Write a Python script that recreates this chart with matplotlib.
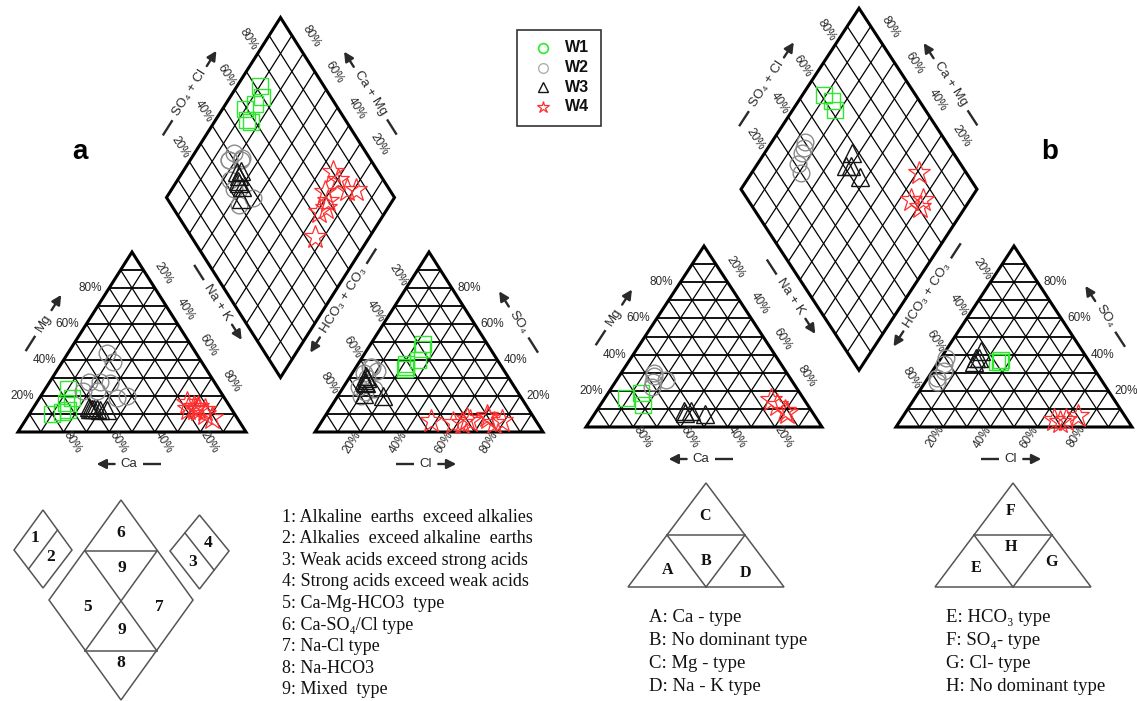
import math
import matplotlib
matplotlib.use("Agg")
import matplotlib.pyplot as plt
from matplotlib.patches import Polygon, Rectangle

# ---------------------------------------------------------------
# Sample compositions (meq %). Cations: (Ca, Mg, Na+K); anions: (HCO3+CO3, SO4, Cl)
# ---------------------------------------------------------------
groups = ["W1", "W2", "W3", "W4"]

# Panel a
a_W1_cations = [(66, 24, 10), (67, 19, 14), (71, 16, 13), (80, 10, 10), (75, 11, 14), (72, 12, 16)]
a_W1_anions = [(28, 49, 23), (30, 46, 24), (35, 40, 25), (41, 38, 21), (43, 35, 22), (42, 36, 22)]
a_W2_cations = [(39, 44, 17), (39, 39, 22), (55, 28, 17), (50, 28, 22), (46, 27, 27),
                (60, 23, 17), (54, 23, 23), (42, 20, 38), (47, 19, 34)]
a_W2_anions = [(58, 36, 6), (56, 34, 10), (62, 33, 5), (57, 36, 7), (68, 25, 7),
               (62, 30, 8), (67, 22, 11), (62, 24, 14), (70, 20, 10)]
a_W3_cations = [(62, 14, 24), (61, 13, 26), (59, 13, 28), (58, 12, 30), (60, 13, 27),
                (55, 12, 33), (62, 13, 25)]
a_W3_anions = [(62, 31, 7), (62, 30, 8), (64, 28, 8), (64, 27, 9), (64, 29, 7),
               (68, 21, 11), (60, 20, 20)]
a_W4_cations = [(18, 16, 66), (16, 14, 70), (11, 8, 81), (19, 13, 68), (14, 14, 72),
                (15, 12, 73), (16, 13, 71), (12, 12, 76), (13, 10, 77)]
a_W4_anions = [(20, 9, 71), (20, 8, 72), (15, 6, 79), (29, 6, 65), (30, 7, 63),
               (33, 5, 62), (37, 5, 58), (46, 6, 48), (19, 5, 76)]

# Panel b
b_W1_cations = [(75, 16, 9), (67, 19, 14), (70, 12, 18)]
b_W1_anions = [(39, 36, 25), (37, 37, 26), (38, 36, 26)]
b_W2_cations = [(56, 30, 14), (57, 28, 15), (59, 25, 16), (61, 22, 17), (53, 26, 21)]
b_W2_anions = [(60, 38, 2), (62, 35, 3), (64, 31, 5), (69, 27, 4), (70, 25, 5)]
b_W3_cations = [(54, 9, 37), (51, 9, 40), (54, 8, 38), (46, 7, 47)]
b_W3_anions = [(43, 42, 15), (47, 38, 15), (49, 36, 15), (46, 38, 16)]
b_W4_cations = [(14, 15, 71), (13, 12, 75), (11, 9, 80), (11, 8, 81)]
b_W4_anions = [(20, 6, 74), (31, 4, 65), (26, 4, 70), (29, 3, 68)]

tick_values = [20, 40, 60, 80]

classes_a = ["1: Alkaline  earths  exceed alkalies",
             "2: Alkalies  exceed alkaline  earths",
             "3: Weak acids exceed strong acids",
             "4: Strong acids exceed weak acids",
             "5: Ca-Mg-HCO3  type",
             "6: Ca-SO\u2084/Cl type",
             "7: Na-Cl type",
             "8: Na-HCO3",
             "9: Mixed  type"]
classes_cat = ["A: Ca - type", "B: No dominant type", "C: Mg - type", "D: Na - K type"]
classes_an = ["E: HCO\u2083 type", "F: SO\u2084- type", "G: Cl- type", "H: No dominant type"]

# ---------------------------------------------------------------
SANS = ["Liberation Sans", "DejaVu Sans"]
SERIF = ["Liberation Serif", "DejaVu Serif"]
TXT = "#2a2a2a"

styles = {
    "W1": dict(marker="s", mec="#2ee82e", ms=11, mew=1.0),
    "W2": dict(marker="o", mec="#8c8c8c", ms=12, mew=1.0),
    "W3": dict(marker="^", mec="#151515", ms=13, mew=1.0),
    "W4": dict(marker="*", mec="#ff3030", ms=17, mew=0.9),
}

FW, FH = 1137, 701
fig = plt.figure(figsize=(FW / 100, FH / 100), dpi=100)
ax = fig.add_axes([0, 0, 1, 1])
ax.set_xlim(0, FW)
ax.set_ylim(FH, 0)
ax.axis("off")
renderer = fig.canvas.get_renderer()


class Piper:
    def __init__(self, x0, y0, L, H, gap):
        self.x0, self.y0, self.L, self.H, self.gap = x0, y0, L, H, gap
        self.xr = x0 + L + gap
        self.B = (x0 + L + gap / 2, y0 - (gap / 2) * (2 * H / L))
        self.R = (self.B[0] + L / 2, self.B[1] - H)
        self.Lf = (self.B[0] - L / 2, self.B[1] - H)
        self.T = (self.B[0], self.B[1] - 2 * H)
        self.ang = math.degrees(math.atan2(H, L / 2))

    def cation(self, ca, mg, nak):
        s = ca + mg + nak
        mg, nak = mg / s, nak / s
        return self.x0 + (nak + mg / 2) * self.L, self.y0 - mg * self.H

    def anion(self, hco3, so4, cl):
        s = hco3 + so4 + cl
        so4, cl = so4 / s, cl / s
        return self.xr + (cl + so4 / 2) * self.L, self.y0 - so4 * self.H

    def diamond(self, cat, an):
        c = (cat[0] + cat[1]) / sum(cat)
        a = (an[1] + an[2]) / sum(an)
        bx, by = self.B
        return (bx + a * self.L / 2 - c * self.L / 2,
                by - a * self.H - c * self.H)


def seg(p, q, lw=0.9):
    ax.plot([p[0], q[0]], [p[1], q[1]], color="black", lw=lw,
            solid_capstyle="butt", zorder=2)


def draw_triangle(p, xs):
    L, H, y0 = p.L, p.H, p.y0
    for i in range(1, 10):
        t = i / 10
        seg((xs + t * L / 2, y0 - t * H), (xs + L - t * L / 2, y0 - t * H), lw=1.3)
        seg((xs + t * L, y0), (xs + L / 2 + t * L / 2, y0 - (1 - t) * H))
        seg((xs + t * L, y0), (xs + t * L / 2, y0 - t * H))
    ax.add_patch(Polygon([(xs, y0), (xs + L, y0), (xs + L / 2, y0 - H)],
                         closed=True, fill=False, lw=2.2, ec="black",
                         joinstyle="miter", zorder=3))


def draw_diamond(p):
    B, R, Lf, T = p.B, p.R, p.Lf, p.T
    for i in range(1, 10):
        t = i / 10
        a0 = (B[0] + t * (Lf[0] - B[0]), B[1] + t * (Lf[1] - B[1]))
        a1 = (R[0] + t * (Lf[0] - B[0]), R[1] + t * (Lf[1] - B[1]))
        seg(a0, a1)
        b0 = (B[0] + t * (R[0] - B[0]), B[1] + t * (R[1] - B[1]))
        b1 = (Lf[0] + t * (R[0] - B[0]), Lf[1] + t * (R[1] - B[1]))
        seg(b0, b1)
    ax.add_patch(Polygon([B, R, T, Lf], closed=True, fill=False, lw=2.2,
                         ec="black", joinstyle="miter", zorder=3))


def tick(x, y, s, rot=0, ha="center", va="center"):
    ax.text(x, y, s, fontsize=8.5, color=TXT, family=SANS, rotation=rot,
            ha=ha, va=va, rotation_mode="anchor", zorder=4)


def axis_label(cx, cy, s, rot=0, arrow_end=1, gap=6, length=18):
    """Axis title with a leading dash and a trailing arrow along the text direction."""
    t = ax.text(cx, cy, s, fontsize=9.5, color=TXT, family=SANS,
                ha="center", va="center", rotation_mode="anchor", zorder=4)
    half = t.get_window_extent(renderer).width / 2
    t.set_rotation(rot)
    th = math.radians(rot)
    u = (math.cos(th), -math.sin(th))

    def pt(d):
        return (cx + u[0] * d, cy + u[1] * d)

    d0, d1 = half + gap, half + gap + length
    dash = (pt(-d0), pt(-d1)) if arrow_end > 0 else (pt(d0), pt(d1))
    arr = (pt(d0), pt(d1)) if arrow_end > 0 else (pt(-d0), pt(-d1))
    ax.plot([dash[0][0], dash[1][0]], [dash[0][1], dash[1][1]], color=TXT,
            lw=1.7, solid_capstyle="butt", zorder=4)
    ax.annotate("", xy=arr[1], xytext=arr[0],
                arrowprops=dict(arrowstyle="-|>,head_length=0.55,head_width=0.28",
                                lw=1.7, color=TXT, shrinkA=0, shrinkB=0,
                                mutation_scale=10), zorder=4)


def draw_frame(p):
    L, H, x0, y0, xr, ang = p.L, p.H, p.x0, p.y0, p.xr, p.ang
    draw_triangle(p, x0)
    draw_triangle(p, xr)
    draw_diamond(p)

    for v in tick_values:
        f = v / 100
        lab = f"{v}%"
        # cation triangle
        tick(x0 + f * L / 2 - 7, y0 - f * H, lab, ha="right")
        tick(x0 + L / 2 + f * L / 2 + 8, y0 - H + f * H - 15, lab, rot=-ang)
        tick(x0 + (1 - f) * L + 9, y0 + 10, lab, rot=-ang)
        # anion triangle
        tick(xr + L - f * L / 2 + 6, y0 - f * H, lab, ha="left")
        tick(xr + L / 2 - f * L / 2 - 8, y0 - H + f * H - 13, lab, rot=-ang)
        tick(xr + f * L - 8, y0 + 10, lab, rot=ang)
        # diamond
        ex = p.Lf[0] + f * (p.T[0] - p.Lf[0])
        ey = p.Lf[1] + f * (p.T[1] - p.Lf[1])
        tick(ex - 9, ey - 14, lab, rot=-ang)
        ex = p.R[0] + f * (p.T[0] - p.R[0])
        ey = p.R[1] + f * (p.T[1] - p.R[1])
        tick(ex + 8, ey - 17, lab, rot=-ang)

    # axis titles
    axis_label(x0 + 0.6 * L / 2 - 43, y0 - 0.6 * H - 1, "Mg", rot=ang, arrow_end=1)
    axis_label(x0 + L / 2 - 3, y0 + 32, "Ca", arrow_end=-1)
    axis_label(x0 + L / 2 + 0.28 * L / 2 + 54, y0 - H + 0.28 * H,
               "Na + K", rot=-ang, arrow_end=1)
    axis_label(xr + L / 2 - 3, y0 + 32, "Cl", arrow_end=1)
    axis_label(xr + L - 0.6 * L / 2 + 44, y0 - 0.6 * H - 2,
               "SO\u2084", rot=-ang, arrow_end=-1)
    axis_label(xr + L / 2 - 0.27 * L / 2 - 55, y0 - H + 0.27 * H,
               "HCO\u2083 + CO\u2083", rot=ang, arrow_end=-1)
    f = 0.58
    axis_label(p.Lf[0] + f * (p.T[0] - p.Lf[0]) - 43, p.Lf[1] + f * (p.T[1] - p.Lf[1]),
               "SO\u2084 + Cl", rot=ang, arrow_end=1)
    axis_label(p.R[0] + f * (p.T[0] - p.R[0]) + 42, p.R[1] + f * (p.T[1] - p.R[1]),
               "Ca + Mg", rot=-ang, arrow_end=-1)


def draw_samples(p, data):
    for g in groups:
        cats, ans = data[g]
        st = styles[g]
        pts = [p.cation(*c) for c in cats] + [p.anion(*a) for a in ans] + \
              [p.diamond(c, a) for c, a in zip(cats, ans)]
        ax.plot([q[0] for q in pts], [q[1] for q in pts], ls="none",
                mfc="none", zorder=5, **st)


pa = Piper(18, 432, 228, 180, 69)
pb = Piper(586, 427, 236, 181, 74)

draw_frame(pa)
draw_frame(pb)
draw_samples(pa, {"W1": (a_W1_cations, a_W1_anions), "W2": (a_W2_cations, a_W2_anions),
                  "W3": (a_W3_cations, a_W3_anions), "W4": (a_W4_cations, a_W4_anions)})
draw_samples(pb, {"W1": (b_W1_cations, b_W1_anions), "W2": (b_W2_cations, b_W2_anions),
                  "W3": (b_W3_cations, b_W3_anions), "W4": (b_W4_cations, b_W4_anions)})

# panel letters
ax.text(80, 152, "a", fontsize=20, fontweight="bold", family=SANS,
        ha="center", va="center")
ax.text(1050, 152, "b", fontsize=20, fontweight="bold", family=SANS,
        ha="center", va="center")

# legend
ax.add_patch(Rectangle((517, 30), 84, 96, fill=False, ec="#333333", lw=1.2, zorder=4))
leg_markers = {
    "W1": dict(marker="o", mec="#2ee82e", ms=7, mew=1.2),
    "W2": dict(marker="o", mec="#b0b0b0", ms=7, mew=1.0),
    "W3": dict(marker="^", mec="#151515", ms=7, mew=1.0),
    "W4": dict(marker="*", mec="#ff3030", ms=9, mew=0.9),
}
for i, g in enumerate(groups):
    yy = 48 + i * 19.5
    ax.plot([543], [yy], ls="none", mfc="none", zorder=5, **leg_markers[g])
    ax.text(565, yy, g, fontsize=11.5, fontweight="bold", family=SANS,
            ha="left", va="center", color="#111111")

# ---------------------------------------------------------------
# classification key for panel a
GREY = "#555555"


def poly(pts, lw=1.1):
    ax.add_patch(Polygon(pts, closed=True, fill=False, ec=GREY, lw=lw, zorder=3))


def line(p, q, lw=1.1):
    ax.plot([p[0], q[0]], [p[1], q[1]], color=GREY, lw=lw, zorder=3)


def key_label(x, y, s, size=12.5):
    ax.text(x, y, s, fontsize=size, fontweight="bold", family=SERIF,
            ha="center", va="center", color="#111111")


poly([(14, 550), (43, 510), (72, 550), (43, 588)])
line((57.5, 530), (28.5, 569))
key_label(35, 538, "1")
key_label(51, 557, "2")

poly([(170, 551), (199.5, 515), (229, 551), (199.5, 589)])
line((185, 533), (214, 570))
key_label(208, 543, "4")
key_label(193, 562, "3")

poly([(121, 500), (49, 600), (121, 700), (193, 600)])
line((85, 551), (157, 551))
line((85, 651), (157, 651))
line((85, 551), (157, 651))
line((157, 551), (85, 651))
key_label(121, 533, "6")
key_label(122, 568, "9")
key_label(88, 607, "5")
key_label(159, 607, "7")
key_label(122, 630, "9")
key_label(121, 663, "8")

for i, s in enumerate(classes_a):
    ax.text(282, 517 + i * 21.6, s, fontsize=13, family=SERIF, ha="left",
            va="center", color="#111111")

# classification keys for panel b
poly([(628, 587), (784, 587), (706, 483)])
line((667, 535), (745, 535))
line((667, 535), (706, 587))
line((745, 535), (706, 587))
key_label(705, 516, "C", size=11.5)
key_label(668, 570, "A", size=11.5)
key_label(706, 561, "B", size=11.5)
key_label(745, 573, "D", size=11.5)

poly([(935, 587), (1091, 587), (1013, 483)])
line((974, 535), (1052, 535))
line((974, 535), (1013, 587))
line((1052, 535), (1013, 587))
key_label(1011, 511, "F", size=11.5)
key_label(1011, 547, "H", size=11.5)
key_label(976, 568, "E", size=11.5)
key_label(1051, 562, "G", size=11.5)

for i, s in enumerate(classes_cat):
    ax.text(649, 618 + i * 22.7, s, fontsize=13.5, family=SERIF, ha="left",
            va="center", color="#111111")
for i, s in enumerate(classes_an):
    ax.text(946, 618 + i * 22.7, s, fontsize=13.5, family=SERIF, ha="left",
            va="center", color="#111111")

fig.savefig("out.png", dpi=100)
